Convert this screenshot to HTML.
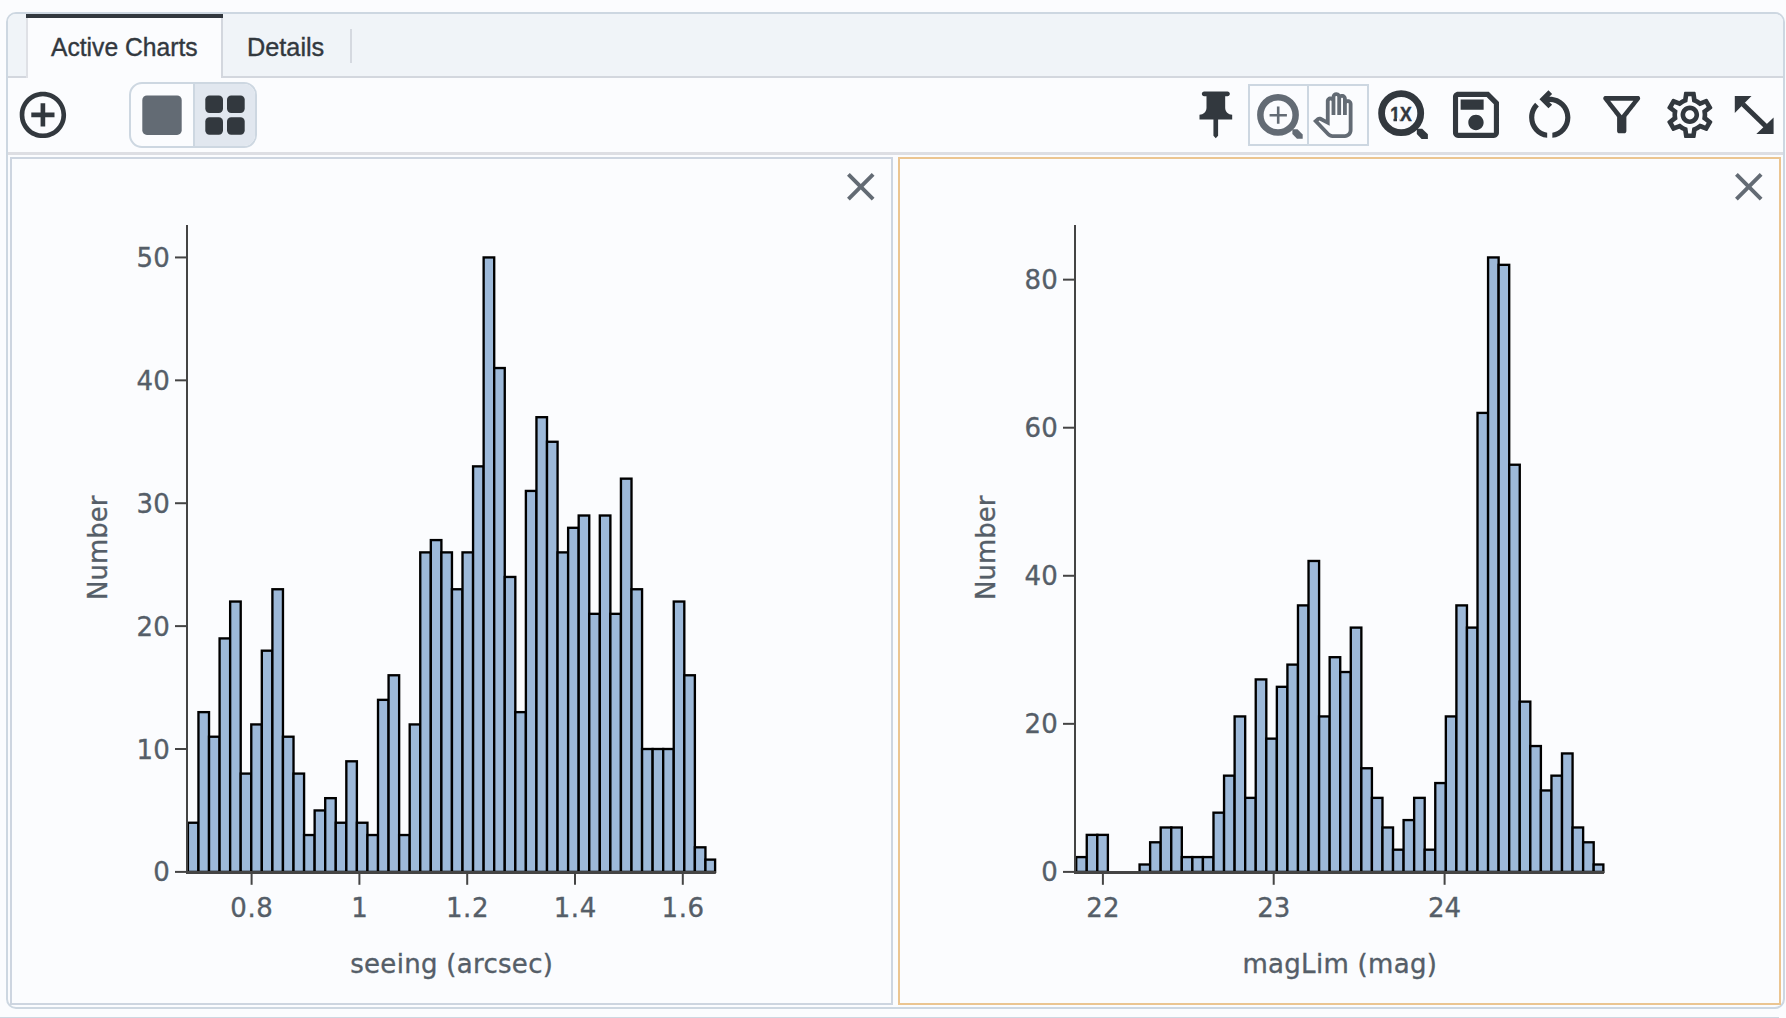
<!DOCTYPE html>
<html lang="en">
<head>
<meta charset="utf-8">
<title>Active Charts</title>
<style>
html,body{margin:0;padding:0;}
body{width:1786px;height:1018px;overflow:hidden;background:#FBFCFE;position:relative;font-family:"Liberation Sans",sans-serif;}
.abs{position:absolute;box-sizing:border-box;}
#outer{left:6px;top:12px;width:1779px;height:997px;border:2px solid #CDD7E1;border-radius:10px;background:#FBFCFE;overflow:hidden;}
#tabbar{left:8px;top:14px;width:1775px;height:64px;background:#F0F4F8;border-bottom:2px solid #D3D7DE;border-radius:8px 8px 0 0;}
#tab1{left:26px;top:14px;width:197px;height:64px;background:#FBFCFE;border-right:2px solid #D3D7DE;border-left:2px solid #DFE1E6;}
#tab1bar{left:26px;top:14px;width:197px;height:4px;background:#32383E;}
.tabtxt{-webkit-text-stroke:0.4px #32383E;color:#32383E;font-size:26px;line-height:30px;white-space:nowrap;transform-origin:0 0;}
#sep{left:350px;top:29px;width:2px;height:34px;background:#D5D9E0;}
#tline{left:8px;top:152px;width:1775px;height:3px;background:#DDDEE3;}
#bg1{left:129px;top:82px;width:128px;height:66px;border:2px solid #CDD7E1;border-radius:13px;overflow:hidden;background:#FBFCFE;}
#bg1r{left:193px;top:84px;width:62px;height:62px;background:#E1E7EF;border-left:2px solid #CDD7E1;border-radius:0 11px 11px 0;}
#tg{left:1248px;top:84px;width:121px;height:62px;border:2px solid #CDD7E1;}
#tgd{left:1307px;top:84px;width:2px;height:62px;background:#CDD7E1;}
#p1{left:10px;top:157px;width:883px;height:848px;border:2px solid #CDD5E0;}
#p2{left:898px;top:157px;width:883px;height:848px;border:2px solid #EBC591;}
#bot{left:0;top:1017px;width:1779px;height:2px;background:#CDD7E1;}
svg{position:absolute;left:0;top:0;}
</style>
</head>
<body>
<div class="abs" id="outer"></div>
<div class="abs" id="tabbar"></div>
<div class="abs" id="tab1"></div>
<div class="abs" id="tab1bar"></div>
<div class="abs tabtxt" id="t1" style="left:51px;top:32.4px;transform:scaleX(0.948);">Active Charts</div>
<div class="abs tabtxt" id="t2" style="left:247.4px;top:32.4px;transform:scaleX(0.972);">Details</div>
<div class="abs" id="sep"></div>
<div class="abs" id="tline"></div>
<div class="abs" id="bg1"></div>
<div class="abs" id="bg1r"></div>
<div class="abs" id="tg"></div>
<div class="abs" id="tgd"></div>
<div class="abs" id="p1"></div>
<div class="abs" id="p2"></div>
<div class="abs" id="bot"></div>
<svg width="1786" height="1018" viewBox="0 0 1786 1018">
<g id="icons">
<path transform="translate(15.06,87.06) scale(2.32)" fill="#32383E"  d="M13 7h-2v4H7v2h4v4h2v-4h4v-2h-4V7zm-1-5C6.48 2 2 6.48 2 12s4.48 10 10 10 10-4.48 10-10S17.52 2 12 2zm0 18c-4.41 0-8-3.59-8-8s3.59-8 8-8 8 3.59 8 8-3.59 8-8 8z"/>
<rect x="142.3" y="95.5" width="39.4" height="39.4" rx="4.6" fill="#636B74"/>
<rect x="205.3" y="95.4" width="17.7" height="17.6" rx="4.2" fill="#32383E"/>
<rect x="205.3" y="117.2" width="17.7" height="17.6" rx="4.2" fill="#32383E"/>
<rect x="227.0" y="95.4" width="17.7" height="17.6" rx="4.2" fill="#32383E"/>
<rect x="227.0" y="117.2" width="17.7" height="17.6" rx="4.2" fill="#32383E"/>
<path transform="translate(1187.8200000000002,86.78999999999999) scale(2.335)" fill="#32383E"  d="M16 9V4h1c.55 0 1-.45 1-1s-.45-1-1-1H7c-.55 0-1 .45-1 1s.45 1 1 1h1v5c0 1.66-1.34 3-3 3v2h5.97v7l1 1 1-1v-7H19v-2c-1.66 0-3-1.34-3-3z"/>
<circle cx="1278.0" cy="114.9" r="17.65" fill="none" stroke="#636B74" stroke-width="6.5"/>
<path d="M1269.6,115.2H1286.9M1278.2,106.6V123.8" stroke="#636B74" stroke-width="2.6" fill="none"/>
<path d="M1292.4,129.3 H1297.5 L1302.7,134.5 V138.7 H1297.0 L1292.4,134.1 Z" fill="#636B74"/>
<path transform="translate(1310.6,92.2) scale(1.906)" fill="#636B74"  d="M18 24h-6.55c-1.08 0-2.14-.45-2.89-1.23l-7.3-7.61 2.07-1.83c.62-.55 1.53-.66 2.26-.27L8 14.34V4.79c0-1.38 1.12-2.5 2.5-2.5.17 0 .34.02.51.05.09-1.3 1.17-2.33 2.49-2.33.86 0 1.61.43 2.06 1.09.29-.12.61-.18.94-.18 1.38 0 2.5 1.12 2.5 2.5v.28c.16-.03.33-.05.5-.05 1.38 0 2.5 1.12 2.5 2.5V20c0 2.21-1.79 4-4 4zM4.14 15.28l5.86 6.1c.38.39.9.62 1.44.62H18c1.1 0 2-.9 2-2V6.15c0-.28-.22-.5-.5-.5s-.5.22-.5.5V12h-2V3.42c0-.28-.22-.5-.5-.5s-.5.22-.5.5V12h-2V2.51c0-.28-.22-.5-.5-.5s-.5.22-.5.5V12h-2V4.79c0-.28-.22-.5-.5-.5s-.5.23-.5.5v12.87l-5.35-2.83-.51.45z"/>
<circle cx="1401.15" cy="113.15" r="19.55" fill="none" stroke="#32383E" stroke-width="6.8"/>
<path d="M1416.8,128.8 H1422.2 L1427.9,134.3 V138.9 H1421.6 L1416.8,134.1 Z" fill="#32383E"/>
<clipPath id="c1x"><path d="M1384,100H1420V118H1384Z M1393.5,118H1397V123H1393.5Z M1399.7,118H1420V123H1399.7Z"/></clipPath>
<text clip-path="url(#c1x)" x="1401" y="121.1" text-anchor="middle" font-family="'Liberation Sans',sans-serif" style="font-weight:700" font-size="20.3" fill="#32383E" stroke="#32383E" stroke-width="0.5" textLength="21.5" lengthAdjust="spacingAndGlyphs">1X</text>
<path transform="translate(1445.3,84.2) scale(2.556)" fill="#32383E"  d="M17 3H5c-1.11 0-2 .9-2 2v14c0 1.1.89 2 2 2h14c1.1 0 2-.9 2-2V7l-4-4zm2 16H5V5h11.17L19 7.83V19zm-7-7c-1.66 0-3 1.34-3 3s1.34 3 3 3 3-1.34 3-3-1.34-3-3-3zM6 6h9v4H6z"/>
<path transform="translate(1518.8,83.85) scale(2.58)" fill="#32383E"  d="M6 13c0-1.65.67-3.15 1.76-4.24L6.34 7.34C4.9 8.79 4 10.79 4 13c0 4.08 3.05 7.44 7 7.93v-2.02c-2.83-.48-5-2.94-5-5.91zm14 0c0-4.42-3.58-8-8-8-.06 0-.12.01-.18.01l1.09-1.09L11.5 2.5 8 6l3.5 3.5 1.41-1.41-1.08-1.08c.06 0 .12-.01.17-.01 3.31 0 6 2.69 6 6 0 2.97-2.17 5.43-5 5.91v2.02c3.95-.49 7-3.85 7-7.93z"/>
<path transform="translate(1593.9,86.8) scale(2.32)" fill="#32383E"  d="M7 6h10l-5.01 6.3L7 6zm-2.75-.39C6.27 8.2 10 13 10 13v6c0 .55.45 1 1 1h2c.55 0 1-.45 1-1v-6s3.72-4.8 5.74-7.39c.51-.66.04-1.61-.79-1.61H5.04c-.83 0-1.3.95-.79 1.61z"/>
<path transform="translate(1662.0,87.0) scale(2.32)" fill="#32383E"  d="M19.43 12.98c.04-.32.07-.64.07-.98 0-.34-.03-.66-.07-.98l2.11-1.65c.19-.15.24-.42.12-.64l-2-3.46c-.09-.16-.26-.25-.44-.25-.06 0-.12.01-.17.03l-2.49 1c-.52-.4-1.08-.73-1.69-.98l-.38-2.65C14.46 2.18 14.25 2 14 2h-4c-.25 0-.46.18-.49.42l-.38 2.65c-.61.25-1.17.59-1.69.98l-2.49-1c-.06-.02-.12-.03-.18-.03-.17 0-.34.09-.43.25l-2 3.46c-.13.22-.07.49.12.64l2.11 1.65c-.04.32-.07.65-.07.98 0 .33.03.66.07.98l-2.11 1.65c-.19.15-.24.42-.12.64l2 3.46c.09.16.26.25.44.25.06 0 .12-.01.17-.03l2.49-1c.52.4 1.08.73 1.69.98l.38 2.65c.03.24.24.42.49.42h4c.25 0 .46-.18.49-.42l.38-2.65c.61-.25 1.17-.59 1.69-.98l2.49 1c.06.02.12.03.18.03.17 0 .34-.09.43-.25l2-3.46c.12-.22.07-.49-.12-.64l-2.11-1.65zm-1.98-1.71c.04.31.05.52.05.73 0 .21-.02.43-.05.73l-.14 1.13.89.7 1.08.84-.7 1.21-1.27-.51-1.04-.42-.9.68c-.43.32-.84.56-1.25.73l-1.06.43-.16 1.13-.2 1.35h-1.4l-.19-1.35-.16-1.13-1.06-.43c-.43-.18-.83-.41-1.23-.71l-.91-.7-1.06.43-1.27.51-.7-1.21 1.08-.84.89-.7-.14-1.13c-.03-.31-.05-.54-.05-.74s.02-.43.05-.73l.14-1.13-.89-.7-1.08-.84.7-1.21 1.27.51 1.04.42.9-.68c.43-.32.84-.56 1.25-.73l1.06-.43.16-1.13.2-1.35h1.39l.19 1.35.16 1.13 1.06.43c.43.18.83.41 1.23.71l.91.7 1.06-.43 1.27-.51.7 1.21-1.07.85-.89.7.14 1.13zM12 8c-2.21 0-4 1.79-4 4s1.79 4 4 4 4-1.79 4-4-1.79-4-4-4zm0 6c-1.1 0-2-.9-2-2s.9-2 2-2 2 .9 2 2-.9 2-2 2z"/>
<path d="M1743,104.2 L1765.5,126" stroke="#32383E" stroke-width="5" fill="none"/>
<path d="M1734.8,96.1 H1751.5 L1734.8,113.1 Z M1773.6,134 V117.4 L1756.3,134 Z" fill="#32383E"/>
<path transform="translate(837.2,163.2) scale(1.964)" fill="#636B74"  d="M19 6.41 17.59 5 12 10.59 6.41 5 5 6.41 10.59 12 5 17.59 6.41 19 12 13.41 17.59 19 19 17.59 13.41 12z"/>
<path transform="translate(1725.2,163.2) scale(1.964)" fill="#636B74"  d="M19 6.41 17.59 5 12 10.59 6.41 5 5 6.41 10.59 12 5 17.59 6.41 19 12 13.41 17.59 19 19 17.59 13.41 12z"/>
</g>
<g id="chart1">
<g fill="#9DB9D9" stroke="#000" stroke-width="2.35">
<rect x="187.90" y="822.74" width="10.56" height="49.16"/>
<rect x="198.46" y="712.14" width="10.56" height="159.76"/>
<rect x="209.02" y="736.72" width="10.56" height="135.18"/>
<rect x="219.59" y="638.41" width="10.56" height="233.49"/>
<rect x="230.15" y="601.54" width="10.56" height="270.36"/>
<rect x="240.71" y="773.59" width="10.56" height="98.31"/>
<rect x="251.27" y="724.43" width="10.56" height="147.47"/>
<rect x="261.83" y="650.69" width="10.56" height="221.21"/>
<rect x="272.40" y="589.25" width="10.56" height="282.65"/>
<rect x="282.96" y="736.72" width="10.56" height="135.18"/>
<rect x="293.52" y="773.59" width="10.56" height="98.31"/>
<rect x="304.08" y="835.03" width="10.56" height="36.87"/>
<rect x="314.64" y="810.45" width="10.56" height="61.45"/>
<rect x="325.21" y="798.16" width="10.56" height="73.74"/>
<rect x="335.77" y="822.74" width="10.56" height="49.16"/>
<rect x="346.33" y="761.30" width="10.56" height="110.60"/>
<rect x="356.89" y="822.74" width="10.56" height="49.16"/>
<rect x="367.45" y="835.03" width="10.56" height="36.87"/>
<rect x="378.02" y="699.85" width="10.56" height="172.05"/>
<rect x="388.58" y="675.27" width="10.56" height="196.63"/>
<rect x="399.14" y="835.03" width="10.56" height="36.87"/>
<rect x="409.70" y="724.43" width="10.56" height="147.47"/>
<rect x="420.26" y="552.38" width="10.56" height="319.52"/>
<rect x="430.83" y="540.09" width="10.56" height="331.81"/>
<rect x="441.39" y="552.38" width="10.56" height="319.52"/>
<rect x="451.95" y="589.25" width="10.56" height="282.65"/>
<rect x="462.51" y="552.38" width="10.56" height="319.52"/>
<rect x="473.07" y="466.36" width="10.56" height="405.54"/>
<rect x="483.64" y="257.44" width="10.56" height="614.46"/>
<rect x="494.20" y="368.04" width="10.56" height="503.86"/>
<rect x="504.76" y="576.96" width="10.56" height="294.94"/>
<rect x="515.32" y="712.14" width="10.56" height="159.76"/>
<rect x="525.88" y="490.93" width="10.56" height="380.97"/>
<rect x="536.45" y="417.20" width="10.56" height="454.70"/>
<rect x="547.01" y="441.78" width="10.56" height="430.12"/>
<rect x="557.57" y="552.38" width="10.56" height="319.52"/>
<rect x="568.13" y="527.80" width="10.56" height="344.10"/>
<rect x="578.69" y="515.51" width="10.56" height="356.39"/>
<rect x="589.26" y="613.83" width="10.56" height="258.07"/>
<rect x="599.82" y="515.51" width="10.56" height="356.39"/>
<rect x="610.38" y="613.83" width="10.56" height="258.07"/>
<rect x="620.94" y="478.65" width="10.56" height="393.25"/>
<rect x="631.50" y="589.25" width="10.56" height="282.65"/>
<rect x="642.07" y="749.01" width="10.56" height="122.89"/>
<rect x="652.63" y="749.01" width="10.56" height="122.89"/>
<rect x="663.19" y="749.01" width="10.56" height="122.89"/>
<rect x="673.75" y="601.54" width="10.56" height="270.36"/>
<rect x="684.31" y="675.27" width="10.56" height="196.63"/>
<rect x="694.88" y="847.32" width="10.56" height="24.58"/>
<rect x="705.44" y="859.61" width="9.66" height="12.29"/>
</g>
<g stroke="#444444" stroke-width="2" fill="none">
<path d="M187,225.1V872.9"/>
<path d="M186,872.45H715.80" stroke-width="3.1"/>
<path d="M251.6,872.9V884.8"/>
<path d="M359.4,872.9V884.8"/>
<path d="M467.2,872.9V884.8"/>
<path d="M575.0,872.9V884.8"/>
<path d="M682.8,872.9V884.8"/>
<path d="M175,871.90H186"/>
<path d="M175,749.01H186"/>
<path d="M175,626.12H186"/>
<path d="M175,503.22H186"/>
<path d="M175,380.33H186"/>
<path d="M175,257.44H186"/>
</g>
<g fill="#555E68" font-family="'DejaVu Sans','Liberation Sans',sans-serif" font-size="26" stroke="#555E68" stroke-width="0.35">
<text x="251.9" y="916.9" text-anchor="middle" letter-spacing="0.6">0.8</text>
<text x="359.4" y="916.9" text-anchor="middle">1</text>
<text x="467.5" y="916.9" text-anchor="middle" letter-spacing="0.6">1.2</text>
<text x="575.3" y="916.9" text-anchor="middle" letter-spacing="0.6">1.4</text>
<text x="683.1" y="916.9" text-anchor="middle" letter-spacing="0.6">1.6</text>
<text x="169.7" y="881.40" text-anchor="end">0</text>
<text x="169.7" y="758.51" text-anchor="end">10</text>
<text x="169.7" y="635.62" text-anchor="end">20</text>
<text x="169.7" y="512.72" text-anchor="end">30</text>
<text x="169.7" y="389.83" text-anchor="end">40</text>
<text x="169.7" y="266.94" text-anchor="end">50</text>
</g>
<g fill="#555E68" font-family="'DejaVu Sans','Liberation Sans',sans-serif" font-size="26" stroke="#555E68" stroke-width="0.35">
<text x="451.7" y="972.9" text-anchor="middle" letter-spacing="0.3">seeing (arcsec)</text>
<text transform="translate(106.8,547.7) rotate(-90)" text-anchor="middle">Number</text>
</g>
</g>
<g id="chart2">
<g fill="#9DB9D9" stroke="#000" stroke-width="2.35">
<rect x="1076.20" y="857.09" width="10.56" height="14.81"/>
<rect x="1086.76" y="834.88" width="10.56" height="37.02"/>
<rect x="1097.32" y="834.88" width="10.56" height="37.02"/>
<rect x="1139.57" y="864.50" width="10.56" height="7.40"/>
<rect x="1150.13" y="842.29" width="10.56" height="29.61"/>
<rect x="1160.69" y="827.48" width="10.56" height="44.42"/>
<rect x="1171.25" y="827.48" width="10.56" height="44.42"/>
<rect x="1181.81" y="857.09" width="10.56" height="14.81"/>
<rect x="1192.37" y="857.09" width="10.56" height="14.81"/>
<rect x="1202.93" y="857.09" width="10.56" height="14.81"/>
<rect x="1213.49" y="812.67" width="10.56" height="59.23"/>
<rect x="1224.05" y="775.66" width="10.56" height="96.24"/>
<rect x="1234.62" y="716.43" width="10.56" height="155.47"/>
<rect x="1245.18" y="797.87" width="10.56" height="74.03"/>
<rect x="1255.74" y="679.42" width="10.56" height="192.48"/>
<rect x="1266.30" y="738.64" width="10.56" height="133.26"/>
<rect x="1276.86" y="686.82" width="10.56" height="185.08"/>
<rect x="1287.42" y="664.61" width="10.56" height="207.29"/>
<rect x="1297.98" y="605.39" width="10.56" height="266.51"/>
<rect x="1308.54" y="560.97" width="10.56" height="310.93"/>
<rect x="1319.10" y="716.43" width="10.56" height="155.47"/>
<rect x="1329.66" y="657.21" width="10.56" height="214.69"/>
<rect x="1340.22" y="672.02" width="10.56" height="199.88"/>
<rect x="1350.79" y="627.60" width="10.56" height="244.30"/>
<rect x="1361.35" y="768.26" width="10.56" height="103.64"/>
<rect x="1371.91" y="797.87" width="10.56" height="74.03"/>
<rect x="1382.47" y="827.48" width="10.56" height="44.42"/>
<rect x="1393.03" y="849.69" width="10.56" height="22.21"/>
<rect x="1403.59" y="820.08" width="10.56" height="51.82"/>
<rect x="1414.15" y="797.87" width="10.56" height="74.03"/>
<rect x="1424.71" y="849.69" width="10.56" height="22.21"/>
<rect x="1435.27" y="783.06" width="10.56" height="88.84"/>
<rect x="1445.84" y="716.43" width="10.56" height="155.47"/>
<rect x="1456.40" y="605.39" width="10.56" height="266.51"/>
<rect x="1466.96" y="627.60" width="10.56" height="244.30"/>
<rect x="1477.52" y="412.91" width="10.56" height="458.99"/>
<rect x="1488.08" y="257.44" width="10.56" height="614.46"/>
<rect x="1498.64" y="264.84" width="10.56" height="607.06"/>
<rect x="1509.20" y="464.73" width="10.56" height="407.17"/>
<rect x="1519.76" y="701.63" width="10.56" height="170.27"/>
<rect x="1530.32" y="746.05" width="10.56" height="125.85"/>
<rect x="1540.88" y="790.47" width="10.56" height="81.43"/>
<rect x="1551.45" y="775.66" width="10.56" height="96.24"/>
<rect x="1562.01" y="753.45" width="10.56" height="118.45"/>
<rect x="1572.57" y="827.48" width="10.56" height="44.42"/>
<rect x="1583.13" y="842.29" width="10.56" height="29.61"/>
<rect x="1593.69" y="864.50" width="9.66" height="7.40"/>
</g>
<g stroke="#444444" stroke-width="2" fill="none">
<path d="M1075,225.1V872.9"/>
<path d="M1074,872.45H1604.05" stroke-width="3.1"/>
<path d="M1102.9,872.9V884.8"/>
<path d="M1273.7,872.9V884.8"/>
<path d="M1444.6,872.9V884.8"/>
<path d="M1063,871.90H1074"/>
<path d="M1063,723.84H1074"/>
<path d="M1063,575.77H1074"/>
<path d="M1063,427.71H1074"/>
<path d="M1063,279.65H1074"/>
</g>
<g fill="#555E68" font-family="'DejaVu Sans','Liberation Sans',sans-serif" font-size="26" stroke="#555E68" stroke-width="0.35">
<text x="1102.9" y="916.9" text-anchor="middle">22</text>
<text x="1273.7" y="916.9" text-anchor="middle">23</text>
<text x="1444.6" y="916.9" text-anchor="middle">24</text>
<text x="1057.7" y="881.40" text-anchor="end">0</text>
<text x="1057.7" y="733.34" text-anchor="end">20</text>
<text x="1057.7" y="585.27" text-anchor="end">40</text>
<text x="1057.7" y="437.21" text-anchor="end">60</text>
<text x="1057.7" y="289.15" text-anchor="end">80</text>
</g>
<g fill="#555E68" font-family="'DejaVu Sans','Liberation Sans',sans-serif" font-size="26" stroke="#555E68" stroke-width="0.35">
<text x="1339.8" y="972.9" text-anchor="middle" letter-spacing="0.3">magLim (mag)</text>
<text transform="translate(994.8,547.7) rotate(-90)" text-anchor="middle">Number</text>
</g>
</g>
</svg>
</body>
</html>
